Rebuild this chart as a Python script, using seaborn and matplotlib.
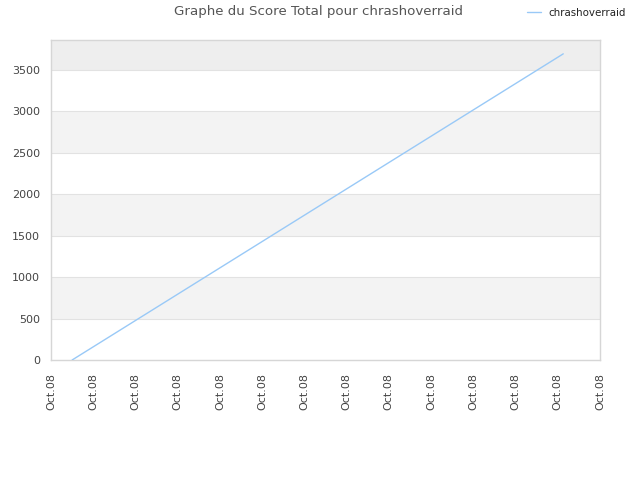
import seaborn as sns
import matplotlib.pyplot as plt
import pandas as pd

# Data
player = 'chrashoverraid'
hours = [0.5, 12.13]          # position along the Oct.08 time axis
scores = [0, 3693]
tick_positions = list(range(14))
tick_labels = ['Oct.08'] * 14
band_edges = [0, 500, 1000, 1500, 2000, 2500, 3000, 3500, 3860]

df = pd.DataFrame({'hour': hours, 'score': scores, 'player': player})

sns.set_style('white')
plt.rcParams['font.family'] = ['DejaVu Sans']

fig = plt.figure(figsize=(6.4, 4.8), dpi=100)
ax = fig.add_axes([51 / 640, 120 / 480, 549 / 640, 320 / 480])

# alternating background bands
for i in range(len(band_edges) - 1):
    if i % 2 == 1:
        color = '#eeeeee' if i == len(band_edges) - 2 else '#f3f3f3'
        ax.axhspan(band_edges[i], band_edges[i + 1], color=color, zorder=0, lw=0)
for y in band_edges[1:-1]:
    ax.axhline(y, color='#e2e2e2', lw=0.8, zorder=1)

sns.lineplot(data=df, x='hour', y='score', hue='player', palette=['#99c9f7'],
             linewidth=1, ax=ax, zorder=3)

ax.set_xlim(0, 13)
ax.set_ylim(0, band_edges[-1])
ax.set_xticks(tick_positions)
ax.set_xticklabels(tick_labels, rotation=90)
ax.set_yticks(band_edges[:-1])
ax.tick_params(axis='both', labelsize=8, colors='#444444', length=0)
ax.tick_params(axis='x', pad=9)
ax.tick_params(axis='y', pad=8)
ax.set_xlabel('')
ax.set_ylabel('')
for s in ax.spines.values():
    s.set_color('#d6d6d6')
    s.set_linewidth(1)

ax.legend(loc='center left', bbox_to_anchor=(522 / 640, 1 - 13 / 480),
          bbox_transform=fig.transFigure, frameon=False, borderpad=0,
          fontsize=7.4, handlelength=1.3, handletextpad=0.8,
          labelcolor='#222222')
fig.text(0.498, 0.975, 'Graphe du Score Total pour chrashoverraid',
         ha='center', va='center', fontsize=9.6, color='#555555')

fig.savefig('out.png', dpi=100)
